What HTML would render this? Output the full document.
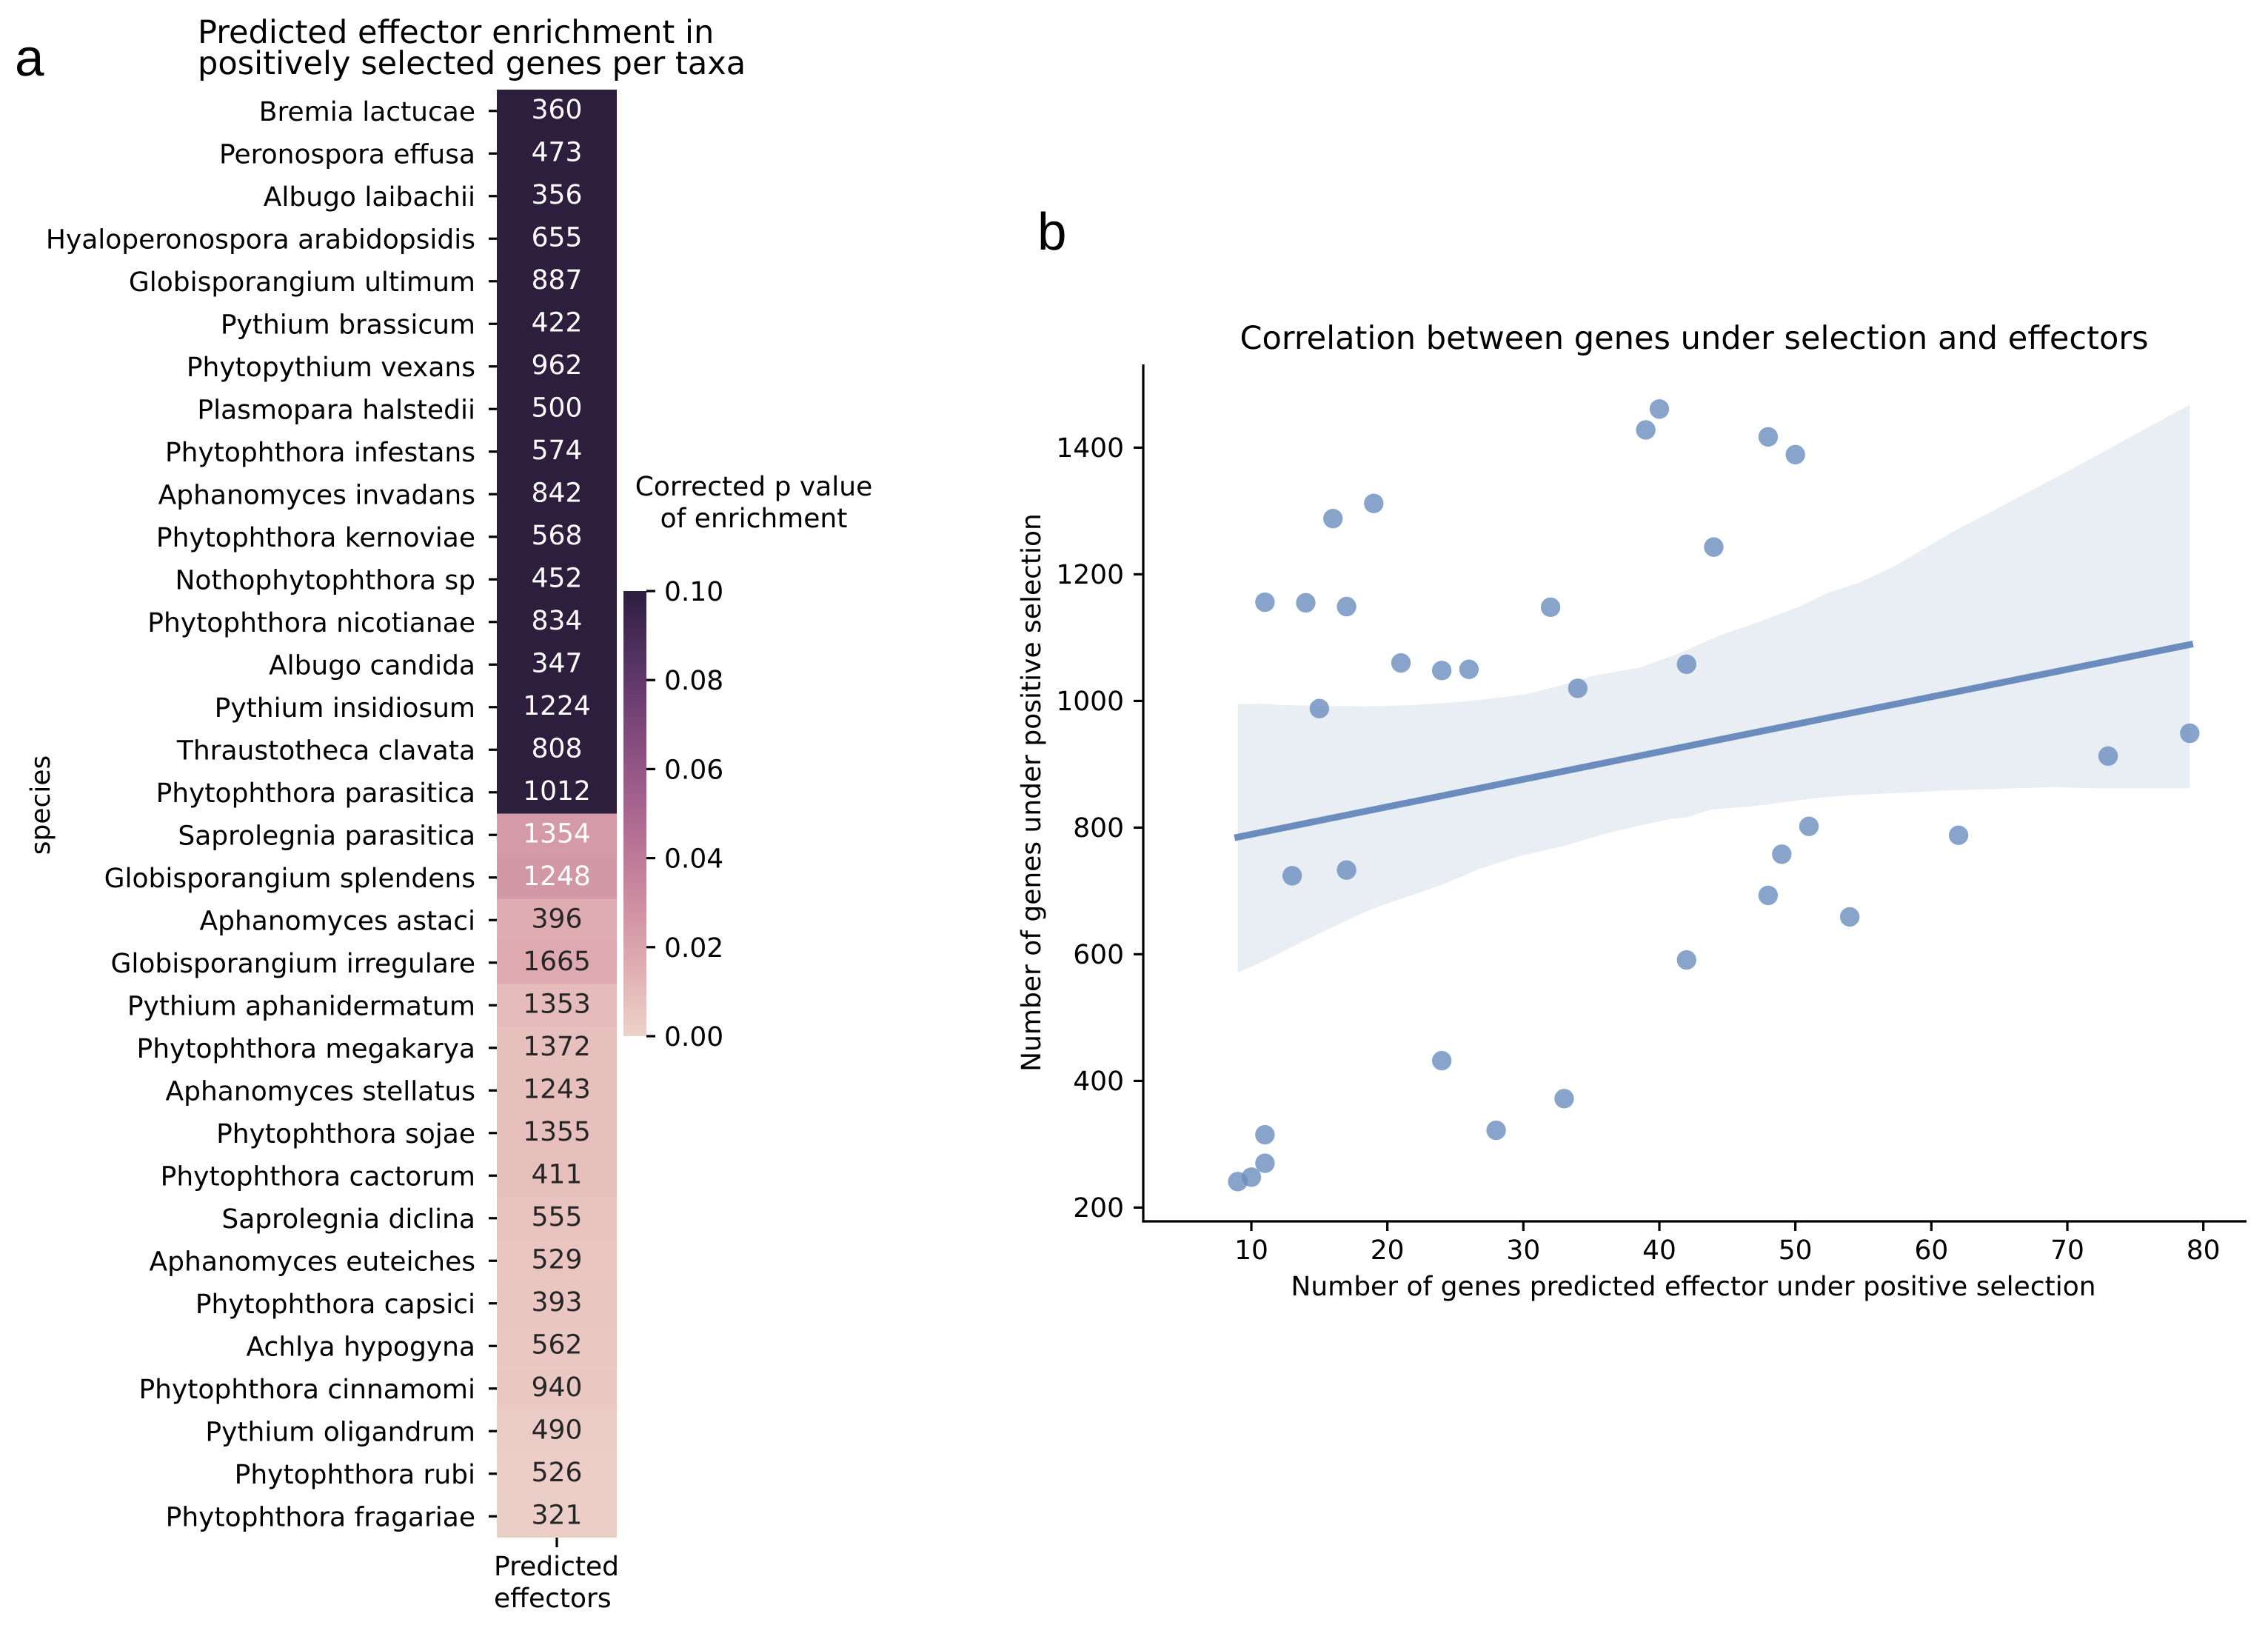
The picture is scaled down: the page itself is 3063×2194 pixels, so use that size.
<!DOCTYPE html>
<html lang="en">
<head>
<meta charset="utf-8">
<title>Predicted effector enrichment and correlation</title>
<style>
html,body{margin:0;padding:0;background:#fff;}
svg{display:block;}
text{font-family:"DejaVu Sans","Liberation Sans",sans-serif;fill:#000;text-rendering:geometricPrecision;}
</style>
</head>
<body>
<svg id="figure" xmlns="http://www.w3.org/2000/svg" width="3063" height="2194" viewBox="0 0 3063 2194">
  <defs>
    <linearGradient id="cbar-gradient" x1="0" y1="1" x2="0" y2="0"></linearGradient>
  </defs>
  <rect x="0" y="0" width="3063" height="2194" fill="#ffffff"/>

  <text x="20" y="102" font-size="71" style="font-family:'Liberation Sans',sans-serif">a</text>
  <text x="1401" y="337" font-size="71" style="font-family:'Liberation Sans',sans-serif">b</text>

  <text x="267" y="58" font-size="43.1">Predicted effector enrichment in</text>
  <text x="267" y="100" font-size="43.1">positively selected genes per taxa</text>
  <text transform="translate(67,1087) rotate(-90)" text-anchor="middle" font-size="36">species</text>
  <g id="heatmap"></g>
  <line x1="752" y1="2076" x2="752" y2="2089" stroke="#000" stroke-width="3.2"/>
  <text x="667" y="2127" font-size="36">Predicted</text>
  <text x="667" y="2170" font-size="36">effectors</text>

  <text x="1018" y="669" text-anchor="middle" font-size="36">Corrected p value</text>
  <text x="1018" y="712" text-anchor="middle" font-size="36">of enrichment</text>
  <rect x="842" y="798" width="31" height="601" fill="url(#cbar-gradient)"/>
  <g id="colorbar-ticks"></g>

  <text x="2288" y="471" text-anchor="middle" font-size="43.1">Correlation between genes under selection and effectors</text>
  <g id="scatter"></g>
  <line x1="1544" y1="492" x2="1544" y2="1650.6" stroke="#000" stroke-width="3.2"/>
  <line x1="1542.4" y1="1649" x2="3034" y2="1649" stroke="#000" stroke-width="3.2"/>
  <g id="scatter-axes"></g>
  <text x="2287" y="1749" text-anchor="middle" font-size="36">Number of genes predicted effector under positive selection</text>
  <text transform="translate(1405,1070) rotate(-90)" text-anchor="middle" font-size="36">Number of genes under positive selection</text>
</svg>
<script>
// ---- Heatmap data ----
const speciesNames = ["Bremia lactucae","Peronospora effusa","Albugo laibachii","Hyaloperonospora arabidopsidis","Globisporangium ultimum","Pythium brassicum","Phytopythium vexans","Plasmopara halstedii","Phytophthora infestans","Aphanomyces invadans","Phytophthora kernoviae","Nothophytophthora sp","Phytophthora nicotianae","Albugo candida","Pythium insidiosum","Thraustotheca clavata","Phytophthora parasitica","Saprolegnia parasitica","Globisporangium splendens","Aphanomyces astaci","Globisporangium irregulare","Pythium aphanidermatum","Phytophthora megakarya","Aphanomyces stellatus","Phytophthora sojae","Phytophthora cactorum","Saprolegnia diclina","Aphanomyces euteiches","Phytophthora capsici","Achlya hypogyna","Phytophthora cinnamomi","Pythium oligandrum","Phytophthora rubi","Phytophthora fragariae"];
const effectorCounts = [360,473,356,655,887,422,962,500,574,842,568,452,834,347,1224,808,1012,1354,1248,396,1665,1353,1372,1243,1355,411,555,529,393,562,940,490,526,321];
const correctedP = [0.1,0.1,0.1,0.1,0.1,0.1,0.1,0.1,0.1,0.1,0.1,0.1,0.1,0.1,0.1,0.1,0.1,0.0245,0.0255,0.0165,0.017,0.0095,0.0075,0.0075,0.0075,0.0075,0.006,0.0055,0.005,0.0045,0.004,0.0025,0.0018,0.0012];
const colorbarTicks = [0,0.02,0.04,0.06,0.08,0.1];
const colorbarTickLabels = ["0.00","0.02","0.04","0.06","0.08","0.10"];

// ---- Scatter data ----
const effectorsX = [11,14,17,32,16,19,21,24,26,34,15,39,40,48,50,44,42,73,79,51,62,49,48,54,42,13,17,24,33,28,11,11,10,9];
const selectedY = [1156,1155,1149,1148,1288,1312,1060,1048,1050,1020,988,1428,1461,1417,1389,1243,1058,913,949,802,788,758,693,659,591,724,733,432,372,322,315,270,248,241];
const fitX = [9,79];
const fitY = [785,1089];
const ciUpperX = [9,10.7,12.2,18.4,21.9,26,30.2,32.3,35.2,38.6,41.3,44.4,47.2,50.4,52.4,54.6,57.3,61.4,70.4,79];
const ciUpperY = [994.6,995.8,993.5,991.5,993.5,999.6,1010.6,1022,1040,1053,1074,1103,1124,1150,1171,1186,1213,1265,1367,1468];
const ciLowerX = [9,11.1,13.3,15.5,18.6,20.5,24.2,26.7,29.7,33,35.8,38.7,41,42,43.7,47,51.7,54,60.7,69,72,79];
const ciLowerY = [571,591,615,638,669,684,711,734,755,771,789,804,814,816,828,834,847,851,858,864,862,862];
const xTicks = [10,20,30,40,50,60,70,80];
const yTicks = [200,400,600,800,1000,1200,1400];

// ---- Scales ----
const SVGNS = "http://www.w3.org/2000/svg";
function rowTop(i){ return 121 + i * 57.5; }
function rowCenter(i){ return rowTop(i) + 28.75; }
function cbarY(v){ return 1399 - (v / 0.1) * 601; }
function xScale(v){ return 1690 + (v - 10) * 18.367; }
function yScale(v){ return 1630.4 - (v - 200) * 0.855; }

// Seaborn cubehelix_palette(as_cmap=True) colormap, t in 0..1
function cubeChannel(x, p0, p1){
  const a = 0.8 * x * (1 - x) / 2;
  const phi = 2 * Math.PI * (0.4 * x);
  return x + a * (p0 * Math.cos(phi) + p1 * Math.sin(phi));
}
function cmapRGB(t){
  const c = Math.max(0, Math.min(1, t));
  const x = 0.85 + c * (0.15 - 0.85);
  return [cubeChannel(x,-0.14861,1.78277), cubeChannel(x,-0.29227,-0.90649), cubeChannel(x,1.97294,0)];
}
function toCss(rgb){ return "rgb(" + rgb.map(function(v){return Math.round(Math.max(0,Math.min(1,v))*255);}).join(",") + ")"; }
function luminance(rgb){
  const l = rgb.map(function(v){ return v <= 0.03928 ? v / 12.92 : Math.pow((v + 0.055) / 1.055, 2.4); });
  return 0.2126 * l[0] + 0.7152 * l[1] + 0.0722 * l[2];
}
function make(tag, attrs, parent, txt){
  const node = document.createElementNS(SVGNS, tag);
  Object.keys(attrs).forEach(function(k){ node.setAttribute(k, attrs[k]); });
  if (txt !== undefined) node.textContent = txt;
  parent.appendChild(node);
  return node;
}

// ---- Colorbar ----
const grad = document.getElementById("cbar-gradient");
for (let s = 0; s <= 32; s++) {
  make("stop", {offset: (s / 32), "stop-color": toCss(cmapRGB(s / 32))}, grad);
}
const cbTickGroup = document.getElementById("colorbar-ticks");
colorbarTicks.forEach(function(v, i){
  const tick = make("line", {x1: 873, x2: 885, y1: cbarY(v), y2: cbarY(v), stroke: "#000", "stroke-width": 3.2}, cbTickGroup);
  
  
  const label = make("text", {x: 897, y: cbarY(v) + 13, "font-size": 36}, cbTickGroup, colorbarTickLabels[i]);
  
  
});

// ---- Heatmap ----
const heat = document.getElementById("heatmap");
speciesNames.forEach(function(name, i){
  const rgb = cmapRGB(correctedP[i] / 0.1);
  const cell = make("rect", {x: 671, y: rowTop(i), width: 162, height: 57.5, fill: toCss(rgb), "shape-rendering": "crispEdges"}, heat);
  
  
  const tick = make("line", {x1: 660, x2: 671, y1: rowCenter(i), y2: rowCenter(i), stroke: "#000", "stroke-width": 3.2}, heat);
  
  
  const label = make("text", {x: 642, y: rowCenter(i) + 13, "text-anchor": "end", "font-size": 36}, heat, name);
  
  
});
speciesNames.forEach(function(name, i){
  const rgb = cmapRGB(correctedP[i] / 0.1);
  const value = make("text", {x: 752, y: rowCenter(i) + 10, "text-anchor": "middle", "font-size": 36}, heat, String(effectorCounts[i]));
  value.style.fill = luminance(rgb) > 0.408 ? "#262626" : "#ffffff";
  
  
});

// ---- Scatter ----
const scatter = document.getElementById("scatter");
const BASE = "#6b8dbe";
let bandPts = [];
ciUpperX.forEach(function(x, i){ bandPts.push(xScale(x).toFixed(1) + "," + yScale(ciUpperY[i]).toFixed(1)); });
for (let i = ciLowerX.length - 1; i >= 0; i--) { bandPts.push(xScale(ciLowerX[i]).toFixed(1) + "," + yScale(ciLowerY[i]).toFixed(1)); }
const band = make("polygon", {points: bandPts.join(" "), fill: BASE, "fill-opacity": 0.15}, scatter);


effectorsX.forEach(function(x, i){
  const dot = make("circle", {cx: xScale(x), cy: yScale(selectedY[i]), r: 13.2, fill: BASE, "fill-opacity": 0.8}, scatter);
  
  
});
const fit = make("line", {x1: xScale(fitX[0]), y1: yScale(fitY[0]), x2: xScale(fitX[1]), y2: yScale(fitY[1]), stroke: BASE, "stroke-width": 9, "stroke-linecap": "square"}, scatter);



// ---- Scatter axes ----
const axes = document.getElementById("scatter-axes");
xTicks.forEach(function(v){
  const tick = make("line", {x1: xScale(v), x2: xScale(v), y1: 1649, y2: 1662, stroke: "#000", "stroke-width": 3.2}, axes);
  
  
  const label = make("text", {x: xScale(v), y: 1700, "text-anchor": "middle", "font-size": 36}, axes, String(v));
  
  
});
yTicks.forEach(function(v){
  const tick = make("line", {x1: 1531, x2: 1544, y1: yScale(v), y2: yScale(v), stroke: "#000", "stroke-width": 3.2}, axes);
  
  
  const label = make("text", {x: 1518, y: yScale(v) + 12.5, "text-anchor": "end", "font-size": 36}, axes, String(v));
  
  
});
</script>
</body>
</html>
